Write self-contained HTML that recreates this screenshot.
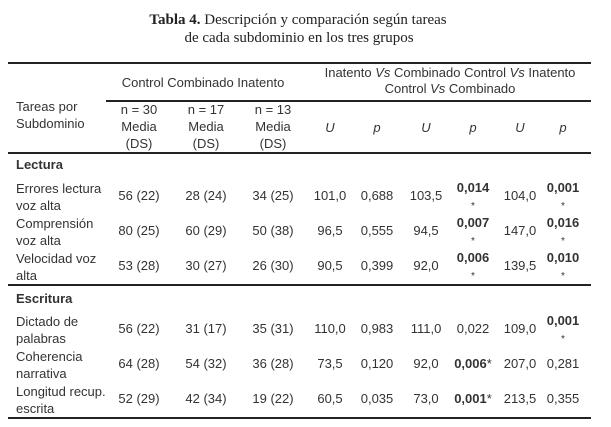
<!DOCTYPE html>
<html><head><meta charset="utf-8">
<style>
body{margin:0;background:#fff;}
#t{position:relative;width:611px;height:427px;overflow:hidden;font-family:"Liberation Sans",Arial,sans-serif;font-size:13px;color:#333;}
.a{position:absolute;white-space:nowrap;line-height:15px;}
.c{transform:translateX(-50%);text-align:center;}
.ln{position:absolute;height:1.5px;background:#222;}
.ttl{font-family:"Liberation Serif",serif;font-size:15px;color:#222;}
</style></head><body>
<div id="t">
<div class="a c ttl" style="left:298px;top:13px"><b>Tabla 4.</b> Descripción y comparación según tareas</div>
<div class="a c ttl" style="left:299px;top:31px">de cada subdominio en los tres grupos</div>
<div class="ln" style="left:8px;width:583px;top:62px"></div>
<div class="ln" style="left:106px;width:485px;top:100px"></div>
<div class="ln" style="left:8px;width:583px;top:152px"></div>
<div class="ln" style="left:8px;width:583px;top:284px"></div>
<div class="ln" style="left:8px;width:583px;top:417px"></div>
<div class="a c" style="left:203px;top:75px">Control Combinado Inatento</div>
<div class="a c" style="left:450px;top:65px;line-height:16px">Inatento <i>Vs</i> Combinado Control <i>Vs</i> Inatento<br>Control <i>Vs</i> Combinado</div>
<div class="a" style="left:16px;top:98px;line-height:17px">Tareas por<br>Subdominio</div>
</div>
<script>
const groupHeads=["n = 30","n = 17","n = 13"];
const statHeads=["U","p","U","p","U","p"];
const sections=[["Lectura",157],["Escritura",291]];
const tasks=[["Errores lectura","voz alta"],["Comprensión","voz alta"],["Velocidad voz","alta"],["Dictado de","palabras"],["Coherencia","narrativa"],["Longitud recup.","escrita"]];
const rowTops=[180,215,250,313,348,383];
const means=[["56 (22)","28 (24)","34 (25)"],["80 (25)","60 (29)","50 (38)"],["53 (28)","30 (27)","26 (30)"],["56 (22)","31 (17)","35 (31)"],["64 (28)","54 (32)","36 (28)"],["52 (29)","42 (34)","19 (22)"]];
const stats=[["101,0","0,688","103,5","0,014*","104,0","0,001*"],["96,5","0,555","94,5","0,007*","147,0","0,016*"],["90,5","0,399","92,0","0,006*","139,5","0,010*"],["110,0","0,983","111,0","0,022","109,0","0,001*"],["73,5","0,120","92,0","0,006*","207,0","0,281"],["60,5","0,035","73,0","0,001*","213,5","0,355"]];
const wrapStar=[true,true,true,true,false,false];
const colX=[139,206,273,330,377,426,473,520,563];
const T=document.getElementById('t');
function add(html,l,tp,cls,name){const d=document.createElement('div');d.className='a '+cls;d.style.left=l+'px';d.style.top=tp+'px';d.innerHTML=html;


T.appendChild(d);return d;}
groupHeads.forEach((h,i)=>{const d=add(h+'<br>Media<br>(DS)',colX[i],101,'c','group-head');d.style.lineHeight='17px';});
statHeads.forEach((h,i)=>add('<i>'+h+'</i>',colX[i+3],120,'c','stat-head'));
sections.forEach(s=>add('<b>'+s[0]+'</b>',16,s[1],'','section-label'));
tasks.forEach((t,r)=>{
 const y=rowTops[r];
 const d=add(t[0]+'<br>'+t[1],16,y,'','task-label');d.style.lineHeight='17px';
 means[r].forEach((m,i)=>add(m,colX[i],y+8,'c','mean-cell'));
 stats[r].forEach((v,i)=>{
  let html=v;
  const star=v.endsWith('*');
  if(star){const n=v.slice(0,-1);
   html=wrapStar[r]?'<b>'+n+'</b><br><span style="font-size:10px">*</span>':'<b>'+n+'</b>*';}
  const c=add(html,colX[i+3],(star&&wrapStar[r])?y-1:y+8,'c','stat-cell');
  if(star&&wrapStar[r])c.style.lineHeight='17px';
 });
});
</script>
</body></html>
